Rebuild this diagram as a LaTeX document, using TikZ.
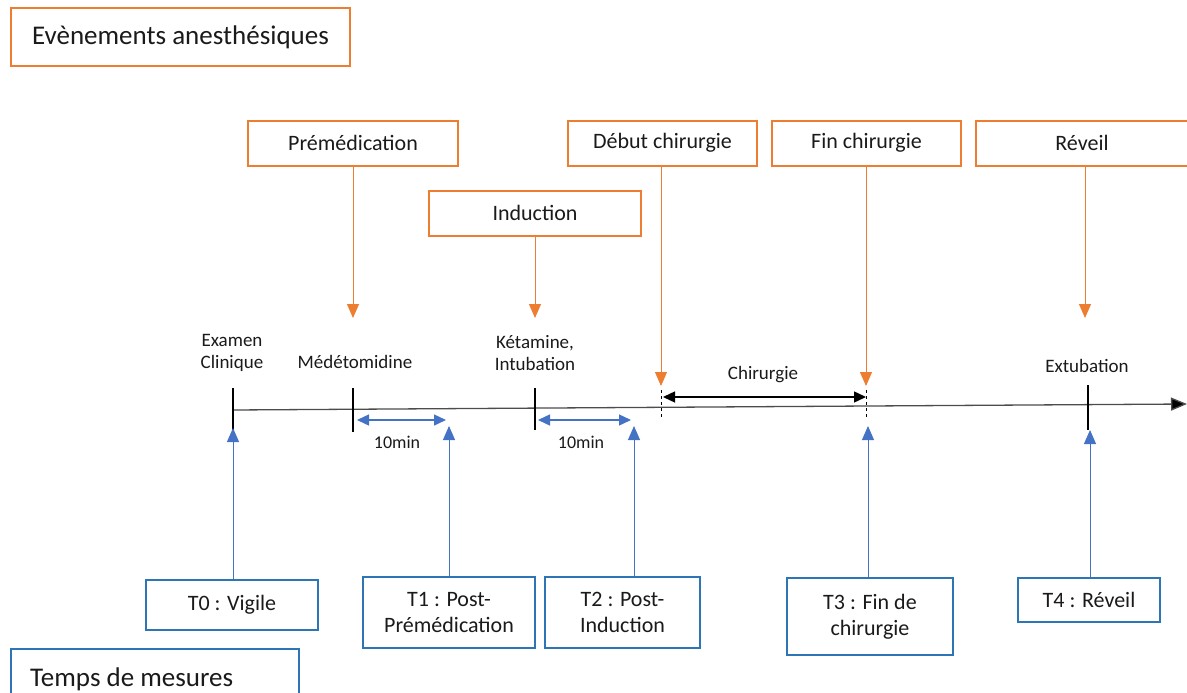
\documentclass[tikz,border=0pt]{standalone}
\usepackage{fontspec}
\setmainfont{Carlito}
\usetikzlibrary{arrows.meta}
\definecolor{evorange}{HTML}{ED7D31}
\definecolor{mesblue}{HTML}{4472C4}
\definecolor{boxblue}{HTML}{2E75B6}
\definecolor{txtgray}{HTML}{1A1A1A}

\tikzset{
  evbox/.style={draw=evorange, line width=2pt, minimum width=210pt, minimum height=45pt, inner sep=0pt, text=txtgray, font=\fontsize{22}{24}\selectfont},
  tbox/.style={draw=boxblue, line width=2pt, inner sep=0pt, align=center, text=txtgray, font=\fontsize{22}{26}\selectfont},
  evarrow/.style={evorange, line width=1pt, -{Triangle[length=14pt,width=12pt]}},
  tarrow/.style={mesblue, line width=1pt, -{Triangle[length=14pt,width=12pt]}},
  dur/.style={line width=1.4pt, {Triangle[length=12pt,width=11pt]}-{Triangle[length=12pt,width=11pt]}},
  lab/.style={font=\fontsize{19}{22}\selectfont, align=center, text=txtgray}
}

\begin{document}
\begin{tikzpicture}[x=1pt, y=-1pt]

\clip (0,0) rectangle (1187,693);

%headers
\node[evbox, minimum width=339pt, minimum height=58pt, font=\fontsize{27}{30}\selectfont] (hev) at (180.5,37) {Evènements anesthésiques};
\node[tbox, minimum width=288pt, minimum height=60pt, anchor=north west] (hmes) at (10,648) {};
\node[text=txtgray, font=\fontsize{27}{30}\selectfont, anchor=west, inner sep=0pt] (hmestxt) at (30,679) {Temps de mesures};

%events
\node[evbox] (premed) at (353,143) {Prémédication};
\node[evbox, minimum width=212pt] (induc) at (535,213) {Induction};
\node[evbox, minimum width=189pt] (debut) at (662.5,143) {Début chirurgie};
\node[evbox, minimum width=189pt] (fin) at (866.5,143) {Fin chirurgie};
\node[evbox, minimum width=212pt] (reveil) at (1082,143) {Réveil};

%timeline points
\coordinate (t0) at (233,410);
\coordinate (tend) at (1187,404);

%axis
\draw[line width=1.3pt, color=black!70, -{Triangle[length=16pt,width=13pt, fill=black]}] (t0) -- (tend);
\draw[line width=1.1pt] (233,388) -- (233,432);
\draw[line width=1.1pt] (353,388) -- (353,432);
\draw[line width=1.1pt] (535,388) -- (535,430);
\draw[line width=1.1pt] (1088,385) -- (1088,430);
\draw[line width=0.9pt, dashed] (661,390) -- (661,418);
\draw[line width=0.9pt, dashed] (866,390) -- (866,418);

%axis labels
\node[lab] (lexam) at (232,353) {Examen\\Clinique};
\node[lab] (lmed) at (355,362) {Médétomidine};
\node[lab] (lket) at (535,353) {Kétamine,\\Intubation};
\node[lab] (lchir) at (763,375) {Chirurgie};
\node[lab] (lext) at (1087,366) {Extubation};

%durations
\coordinate (d1a) at (357,420);
\coordinate (d1b) at (446,420);
\coordinate (d2a) at (538,420);
\coordinate (d2b) at (631,420);
\coordinate (d3a) at (663,397);
\coordinate (d3b) at (866,397);
\draw[dur, mesblue] (d1a) -- (d1b);
\draw[dur, mesblue] (d2a) -- (d2b);
\draw[dur, black] (d3a) -- (d3b);
\node[lab, font=\fontsize{18}{20}\selectfont] (l10a) at (397,442) {10min};
\node[lab, font=\fontsize{18}{20}\selectfont] (l10b) at (581,442) {10min};

%event arrows
\coordinate (a1) at (353,318);
\coordinate (a2) at (535,318);
\coordinate (a3) at (661,386);
\coordinate (a4) at (866,386);
\coordinate (a5) at (1085,318);
\draw[evarrow] (premed.south) -- (a1);
\draw[evarrow] (induc.south) -- (a2);
\draw[evarrow] (debut.south -| a3) -- (a3);
\draw[evarrow] (fin.south -| a4) -- (a4);
\draw[evarrow] (reveil.south -| a5) -- (a5);

%measure times
\node[tbox, minimum width=172pt, minimum height=50pt] (T0) at (232,605) {T0 : Vigile};
\node[tbox, minimum width=172pt, minimum height=71pt] (T1) at (449,612.5) {T1 : Post-\\Prémédication};
\node[tbox, minimum width=155pt, minimum height=71pt] (T2) at (622.5,612.5) {T2 : Post-\\Induction};
\node[tbox, minimum width=166pt, minimum height=77pt] (T3) at (870,616.5) {T3 : Fin de\\chirurgie};
\node[tbox, minimum width=142pt, minimum height=44pt] (T4) at (1089,600) {T4 : Réveil};

\coordinate (b0) at (233,428);
\coordinate (b1) at (449,426);
\coordinate (b2) at (634,426);
\coordinate (b3) at (868,426);
\coordinate (b4) at (1090,430);
\draw[tarrow] (T0.north -| b0) -- (b0);
\draw[tarrow] (T1.north -| b1) -- (b1);
\draw[tarrow] (T2.north -| b2) -- (b2);
\draw[tarrow] (T3.north -| b3) -- (b3);
\draw[tarrow] (T4.north -| b4) -- (b4);

\end{tikzpicture}
\end{document}
